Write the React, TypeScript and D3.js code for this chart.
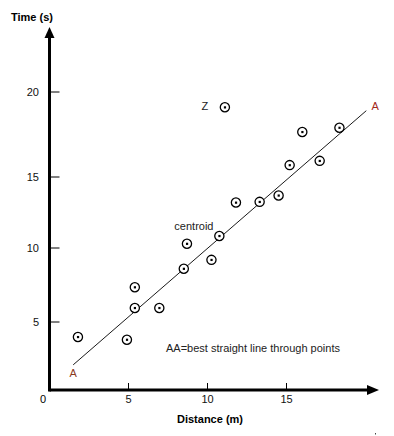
import React, { useEffect, useRef } from 'react';
import * as d3 from 'd3';

// distance (m) and time (s) of each measured point
const distance = [1.8, 4.9, 5.4, 5.4, 6.95, 8.5, 8.7, 10.25, 10.75, 11.8, 13.3, 14.5, 15.2, 17.1, 16.0, 18.35, 11.1];
const time = [3.9, 3.7, 7.35, 5.95, 5.95, 8.6, 10.3, 9.2, 10.85, 13.2, 13.25, 13.7, 15.7, 15.95, 17.65, 17.9, 19.1];

// best straight line AA, end points
const lineX = [1.5, 20.05];
const lineY = [1.85, 18.9];

const xTicks = [5, 10, 15];
const yTicks = [5, 10, 15, 20];

const App = () => {
    const svgRef = useRef<SVGSVGElement>(null);

    useEffect(() => {
        const svg = d3.select(svgRef.current);
        svg.selectAll("*").remove();

        const width = 394;
        const height = 436;
        const font = "'Liberation Sans', Arial, sans-serif";

        const x = d3.scaleLinear([0, 5], [49.5, 128.5]);
        // the hand drawn y axis is not evenly spaced
        const y = d3.scaleLinear([0, 5, 10, 15, 20], [390, 322, 248, 177, 92]);

        svg.attr("width", width)
            .attr("height", height)
            .attr("viewBox", [0, 0, width, height])
            .style("font-family", font)
            .style("font-size", "11px");

        svg.append("rect").attr("width", width).attr("height", height).attr("fill", "white");

        // axes
        svg.append("line")
            .attr("x1", x(0)).attr("x2", 368)
            .attr("y1", y(0)).attr("y2", y(0))
            .attr("stroke", "black").attr("stroke-width", 3);
        svg.append("path")
            .attr("d", `M367,${y(0) - 5}L379,${y(0)}L367,${y(0) + 5}Z`)
            .attr("fill", "black");
        svg.append("line")
            .attr("x1", x(0)).attr("x2", x(0))
            .attr("y1", y(0) + 1.5).attr("y2", 37)
            .attr("stroke", "black").attr("stroke-width", 3);
        svg.append("path")
            .attr("d", `M${x(0) - 5},38L${x(0)},27L${x(0) + 5},38Z`)
            .attr("fill", "black");

        svg.append("g").selectAll("line")
            .data(xTicks)
            .join("line")
            .attr("x1", d => x(d)).attr("x2", d => x(d))
            .attr("y1", y(0) - 7).attr("y2", y(0))
            .attr("stroke", "black");
        svg.append("g").selectAll("text")
            .data(xTicks)
            .join("text")
            .attr("x", d => x(d))
            .attr("y", 403)
            .attr("text-anchor", "middle")
            .attr("fill", "#111")
            .text(d => d);

        svg.append("g").selectAll("line")
            .data(yTicks)
            .join("line")
            .attr("x1", x(0)).attr("x2", x(0) + 10)
            .attr("y1", d => y(d)).attr("y2", d => y(d))
            .attr("stroke", "black");
        svg.append("g").selectAll("text")
            .data(yTicks)
            .join("text")
            .attr("x", 39)
            .attr("y", d => y(d) + 4)
            .attr("text-anchor", "end")
            .attr("fill", "#111")
            .text(d => d);

        svg.append("text").attr("x", 46).attr("y", 403).attr("text-anchor", "end").text("0");

        svg.append("text")
            .attr("x", 11).attr("y", 21)
            .attr("font-weight", "bold")
            .text("Time (s)");
        svg.append("text")
            .attr("x", 210).attr("y", 423)
            .attr("text-anchor", "middle")
            .attr("font-weight", "bold")
            .text("Distance (m)");

        // best line
        const line = d3.line<number>()
            .x(i => x(lineX[i]))
            .y(i => y(lineY[i]));
        svg.append("path")
            .attr("fill", "none")
            .attr("stroke", "black")
            .attr("stroke-width", 0.9)
            .attr("d", line([0, 1]));

        svg.append("text")
            .attr("x", x(lineX[0])).attr("y", y(lineY[0]) + 12)
            .attr("text-anchor", "middle")
            .attr("fill", "#8a3a1e")
            .text("A");
        svg.append("text")
            .attr("x", x(lineX[1]) + 9).attr("y", y(lineY[1]) - 0.5)
            .attr("text-anchor", "middle")
            .attr("fill", "#a3291c")
            .text("A");

        // points
        const pts = svg.append("g").selectAll("g")
            .data(d3.range(distance.length))
            .join("g")
            .attr("transform", i => `translate(${x(distance[i])},${y(time[i])})`);
        pts.append("circle")
            .attr("r", 4.6)
            .attr("fill", "white")
            .attr("stroke", "black")
            .attr("stroke-width", 1.3);
        pts.append("rect")
            .attr("x", -1).attr("y", -1)
            .attr("width", 2.2).attr("height", 2.2)
            .attr("fill", "black");

        const z = distance.length - 1;
        svg.append("text")
            .attr("x", x(distance[z]) - 20).attr("y", y(time[z]) + 3)
            .attr("text-anchor", "middle")
            .attr("fill", "#222")
            .text("Z");

        const c = 8;
        svg.append("text")
            .attr("x", x(distance[c]) - 45).attr("y", y(time[c]) - 6)
            .attr("fill", "#222")
            .text("centroid");

        svg.append("text")
            .attr("x", 166).attr("y", 352)
            .attr("fill", "#222")
            .text("AA=best straight line through points");

        svg.append("rect").attr("x", 375).attr("y", 433).attr("width", 1).attr("height", 1.5).attr("fill", "#444");
    }, []);

    return <svg ref={svgRef} style={{ position: 'absolute', left: 0, top: 0 }} />;
};

export default App;
